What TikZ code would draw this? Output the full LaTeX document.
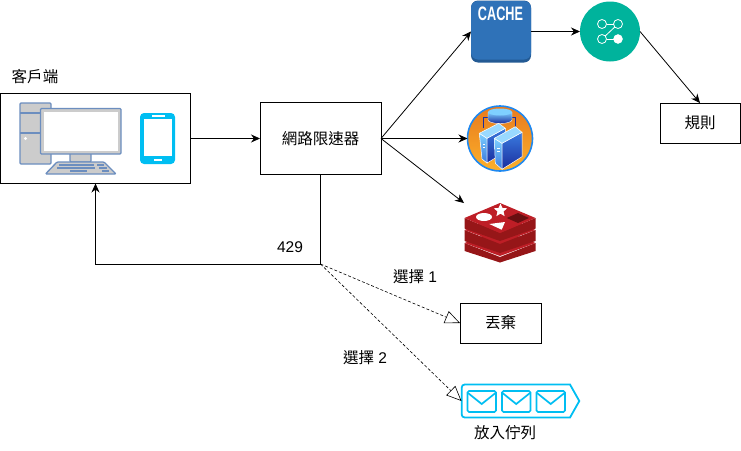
\documentclass[tikz,border=0pt]{standalone}
\usepackage{fontspec}
\setmainfont{Liberation Sans}
\newfontfamily\cjk{Noto Sans CJK TC}
\usetikzlibrary{positioning,arrows.meta,shapes.geometric}
\definecolor{phoneblue}{HTML}{00BEF2}
\definecolor{pcblue}{HTML}{6C8EBF}
\definecolor{pcgray}{HTML}{CCCCCC}
\definecolor{cacheblue}{HTML}{2F72B8}
\definecolor{cachedark}{HTML}{235A94}
\definecolor{tealicon}{HTML}{00B39C}
\definecolor{redistop}{HTML}{BE1E26}
\definecolor{redisside}{HTML}{961618}
\definecolor{serverrim}{HTML}{1E88F0}
\definecolor{serverlight}{HTML}{7FD0FF}
\definecolor{servermid}{HTML}{3A7BE0}
\definecolor{serverdark}{HTML}{1A2E9E}
\definecolor{orangetop}{HTML}{E87A1E}
\definecolor{orangelow}{HTML}{FBB02A}
\begin{document}
\begin{tikzpicture}[
x=1pt, y=-1pt,
font=\fontsize{15.5}{18}\selectfont,
boxnode/.style={rectangle, draw=black, line width=0.8pt, inner sep=0pt, outer sep=0pt},
iconnode/.style={inner sep=0pt, outer sep=0pt},
textnode/.style={inner sep=0pt, outer sep=0pt},
solidline/.style={line width=0.8pt, -{Stealth[length=9pt,width=8pt]}},
dashline/.style={line width=0.6pt, densely dashed, -{Triangle[open,length=15pt,width=13pt]}},
pcpart/.style={draw=pcblue, line width=1.3pt, fill=pcgray, rounded corners=1pt},
envelope/.style={draw=phoneblue, line width=1.7pt, fill=white, rounded corners=1.5pt},
towerleft/.style={draw=white, line width=0.5pt, top color=serverlight, bottom color=servermid},
towerright/.style={draw=white, line width=0.5pt, top color=servermid, bottom color=serverdark},
towertop/.style={draw=white, line width=0.5pt, fill=serverlight!80!white},
]
\useasboundingbox (0,0) rectangle (741,450);

%Nodes
\node[boxnode, minimum width=190pt, minimum height=90pt]  (client)  at (95.5,138.5) {};
\node[boxnode, minimum width=121pt, minimum height=72pt]  (limiter) at (320.5,138.5) {\cjk 網路限速器};
\node[boxnode, minimum width=80pt,  minimum height=40pt]  (rules)   at (700,123)   {\cjk 規則};
\node[boxnode, minimum width=81pt,  minimum height=40pt]  (discard) at (500.5,323) {\cjk 丟棄};
\node[textnode] (clientlabel) at (35,77)   {\cjk 客戶端};
\node[textnode] (code)        at (290,247) {429};
\node[textnode] (choiceone)   at (415,277) {{\cjk 選擇} 1};
\node[textnode] (choicetwo)   at (365,358) {{\cjk 選擇} 2};
\node[textnode] (queuelabel)  at (505,433) {\cjk 放入佇列};

%Cache
\node[iconnode, rectangle, rounded corners=7pt, fill=cachedark, minimum width=60pt, minimum height=62pt] (cache) at (501,31.5) {};
\fill[cacheblue, rounded corners=7pt] (471,1) rectangle (531,59.5);
\node[textnode, text=white] (cachelabel) at (500.5,14) {\fontsize{19.5}{20}\selectfont\bfseries\scalebox{0.65}[1]{CACHE}};

%Workflow icon
\node[iconnode, circle, fill=tealicon, minimum size=60pt] (flow) at (610,31.5) {};
\node[iconnode, circle, draw=white, line width=0.8pt, minimum size=9pt] (flowa) at (602,24) {};
\node[iconnode, circle, draw=white, line width=0.8pt, minimum size=9pt] (flowb) at (618,24) {};
\node[iconnode, circle, draw=white, line width=0.8pt, minimum size=9pt] (flowc) at (602,39) {};
\node[iconnode, circle, draw=white, fill=white, minimum size=9pt]       (flowd) at (618,39) {};
\draw[white, line width=0.8pt] (flowa) -- (flowb);
\draw[white, line width=0.8pt] (flowc) -- (flowd);
\draw[white, line width=0.8pt] (flowc) -- (flowb);

%Server icon
\node[iconnode, circle, draw=serverrim, line width=1.6pt, top color=orangetop, bottom color=orangelow, minimum size=65pt] (server) at (500,138.5) {};
\draw[serverdark, line width=0.6pt] (483,128) -- (483,117.3) -- (515.5,117.3) -- (515.5,128);
\draw[white, line width=0.4pt, top color=serverlight, bottom color=serverdark] (488,112) -- (488,120) arc[x radius=12, y radius=3.5, start angle=180, end angle=0] -- (512,112) -- cycle;
\fill[serverlight] (500,112) ellipse[x radius=12, y radius=3.5];
\draw[towerleft]  (479.3,133.3) -- (487,138.3) -- (487,163) -- (482,159) -- cycle;
\draw[towerright] (487,138.3) -- (505.3,128.3) -- (505.3,152) -- (487,163) -- cycle;
\draw[towertop]   (479.3,133.3) -- (498.7,123.3) -- (505.3,128.3) -- (487,138.3) -- cycle;
\draw[towerleft]  (494.3,138.3) -- (502,143.3) -- (502,169.3) -- (495.3,163.3) -- cycle;
\draw[towerright] (502,143.3) -- (522,132.3) -- (522,156.7) -- (502,169.3) -- cycle;
\draw[towertop]   (494.3,138.3) -- (515.3,126.7) -- (522,132.3) -- (502,143.3) -- cycle;
\fill[white] (482.5,144) rectangle (485,145);
\fill[white] (482.5,147) rectangle (485,148);
\fill[white] (497,148) rectangle (499.5,149);
\fill[white] (497,151) rectangle (499.5,152);

%Redis icon
\node[iconnode, rectangle, minimum width=72pt, minimum height=60pt] (redis) at (500,233) {};
\fill[redisside] (464.5,243) -- (500,257) -- (535.5,243) -- (535.5,251) -- (500,262.5) -- (464.5,251) -- cycle;
\fill[redistop]  (464.5,243) -- (500,229) -- (535.5,243) -- (500,256) -- cycle;
\fill[redisside] (464.5,230) -- (500,244) -- (535.5,230) -- (535.5,241) -- (500,253) -- (464.5,241) -- cycle;
\fill[redistop]  (464.5,230) -- (500,216) -- (535.5,230) -- (500,243) -- cycle;
\fill[redisside] (464.5,218) -- (500,233) -- (535.5,218) -- (535.5,228.5) -- (500,241) -- (464.5,228.5) -- cycle;
\fill[redistop]  (464.5,218) -- (500,203) -- (535.5,218) -- (500,233) -- cycle;
\node[iconnode, star, star points=5, star point ratio=2.2, fill=white, minimum size=14pt] (redisstar) at (500.5,210.5) {};
\fill[white] (484,217) ellipse[x radius=8, y radius=4];
\fill[white] (489.3,224) -- (505,222) -- (501.7,229.7) -- cycle;
\fill[redisside!70!black] (506.7,218) -- (518,213) -- (529,218) -- (518,223) -- cycle;

%Computer and phone
\draw[pcpart] (20,103) rectangle (51,164);
\draw[pcblue, line width=1.3pt] (20,113) -- (41,113);
\draw[pcblue, line width=1.3pt] (20,133) -- (41,133);
\fill[white] (25.5,138.5) circle[radius=1.6];
\draw[pcpart] (70,153) rectangle (91,162);
\draw[pcpart] (40.5,108.5) rectangle (121,154);
\fill[white] (43,111) rectangle (118.5,151.5);
\draw[pcgray, line width=1pt] (43,111) rectangle (118.5,151.5);
\draw[pcpart] (57,162) -- (104,162) -- (116,174) -- (45.5,174) -- cycle;
\draw[pcblue, line width=1.6pt] (59,165) -- (94,165);
\draw[pcblue, line width=1.6pt] (97,165) -- (104,165);
\draw[pcblue, line width=1.6pt] (57,168) -- (95,168);
\draw[pcblue, line width=1.6pt] (99,168) -- (107,168);
\draw[pcblue, line width=1.6pt] (70,171) -- (87,171);
\draw[pcblue, line width=1.6pt] (102,171) -- (109,171);
\fill[phoneblue, rounded corners=4pt] (140,113) rectangle (175,164);
\fill[white] (144,119) rectangle (171.5,155.5);
\fill[white] (152,115.2) rectangle (165,117);
\fill[white] (154,158.5) rectangle (162,160.5);

%Queue
\node[iconnode, rectangle, minimum width=118pt, minimum height=34pt] (queue) at (520.5,401) {};
\draw[phoneblue, line width=1.8pt] (579.3,401) -- (570,384.5) [rounded corners=3pt] -- (461.7,384.5) -- (461.7,417.5) [sharp corners] -- (570,417.5) -- cycle;
\draw[envelope] (467.5,391) rectangle (496,412);
\draw[phoneblue, line width=1.7pt] (468,393) -- (481.7,404) -- (495.5,393);
\draw[envelope] (502,391) rectangle (530.5,412);
\draw[phoneblue, line width=1.7pt] (502.5,393) -- (516.2,404) -- (530,393);
\draw[envelope] (536.5,391) rectangle (565,412);
\draw[phoneblue, line width=1.7pt] (537,393) -- (550.7,404) -- (564.5,393);

\coordinate (branch) at (limiter.south |- 0,264);

%Lines
\draw[solidline] (client.east) -- (limiter.west);
\draw[solidline] (limiter.east) -- (cache.west);
\draw[solidline] (limiter.east) -- (server.west);
\draw[solidline] (limiter.east) -- (redis.north west);
\draw[solidline] (cache.east) -- (flow.west);
\draw[solidline] (flow.east) -- (rules.north);
\draw[solidline] (limiter.south) -- (branch) -| (client.south);
\draw[dashline] (branch) -- (discard.west);
\draw[dashline] (branch) -- (queue.west);

\end{tikzpicture}
\end{document}
